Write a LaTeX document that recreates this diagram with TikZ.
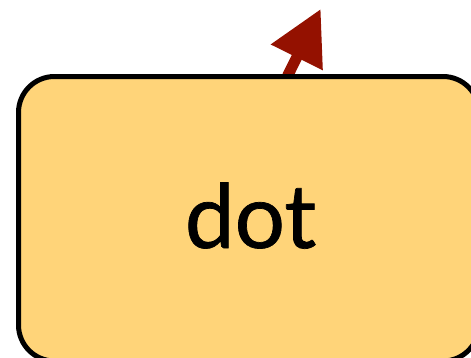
\documentclass[tikz,border=0pt]{standalone}
\usepackage{fontspec}
\setsansfont{Lato}
\newfontfamily\dotfont[FakeBold=0.8]{Lato}
\usetikzlibrary{arrows.meta}
\definecolor{DotInk}{HTML}{000000}
\definecolor{DotFill}{HTML}{FFD479}
\definecolor{DotArrow}{HTML}{941100}
\tikzset{
  every node/.style={font=\sffamily, text=DotInk},
  dotbox/.style={draw=DotInk, line width=5pt, fill=DotFill, rounded corners=36pt},
  outarrow/.style={-{Triangle[length=54pt,width=55pt]}, draw=DotArrow, line width=11pt},
}
\begin{document}
\begin{tikzpicture}[x=1pt,y=1pt]
  % frame of the 471 x 357 view, box runs past right and bottom edges
  \useasboundingbox (0,0) rectangle (471,357);
  \clip (0,0) rectangle (471,357);
  \coordinate (start) at (287.5,281);
  \coordinate (tip) at (320.7,348);
  \draw[outarrow] (start) -- (tip);
  \draw[dotbox] (18.5,-4) rectangle (479,280.5);
  \node[anchor=base, font=\dotfont\fontsize{89}{92}\selectfont] (dot) at (250.5,109) {dot};
\end{tikzpicture}
\end{document}
